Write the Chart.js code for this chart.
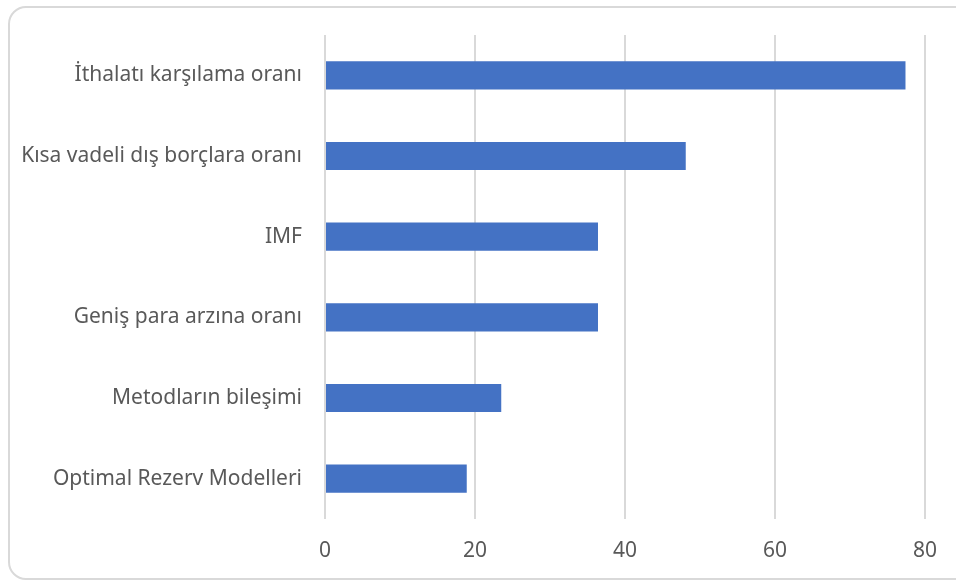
<!DOCTYPE html>
<html>
<head>
<meta charset="utf-8">
<script src="https://cdn.jsdelivr.net/npm/chart.js@4/dist/chart.umd.min.js"></script>
<style>
  html, body { margin: 0; padding: 0; background: #fff; overflow: hidden; }
  #frame {
    position: absolute; left: 8px; top: 6px; width: 970px; height: 574px;
    border: 2px solid #d9d9d9; border-radius: 18px; box-sizing: border-box;
  }
  #wrap { position: absolute; left: 0; top: 0; width: 956px; height: 583px; }
</style>
</head>
<body>
<div id="frame"></div>
<div id="wrap"><canvas id="chartID" width="956" height="583"></canvas></div>
<script>
// reserve methods, share of usage (%)
const labels = [
  'İthalatı karşılama oranı',
  'Kısa vadeli dış borçlara oranı',
  'IMF',
  'Geniş para arzına oranı',
  'Metodların bileşimi',
  'Optimal Rezerv Modelleri'
]
const shares = [77.4, 48.1, 36.4, 36.4, 23.5, 18.9]
const xTicks = [0, 20, 40, 60, 80]

const gray = '#595959'
const font = { family: "'Noto Sans', sans-serif", size: 21 }

window.onload = function() {
  let ctx = document.getElementById('chartID').getContext('2d')
  window.barChart = new Chart(ctx, {
    type: 'bar',
    data: {
      labels: labels,
      datasets: [{
        data: shares,
        backgroundColor: '#4472C4',
        borderWidth: 0,
        barPercentage: 0.7,
        categoryPercentage: 0.5,
      }],
    },
    options: {
      indexAxis: 'y',
      responsive: false,
      animation: false,
      layout: { padding: { top: 35, right: 29, bottom: 0, left: 0 } },
      plugins: { legend: { display: false }, tooltip: { enabled: false } },
      scales: {
        x: {
          min: 0,
          max: 80,
          afterBuildTicks: function(scale) {
            scale.ticks = xTicks.map(v => ({ value: v }))
          },
          afterFit: function(scale) { scale.height = 583 - 519 },
          border: { display: false },
          grid: { color: '#d9d9d9', lineWidth: 2, drawTicks: false },
          ticks: { color: gray, font: font, padding: 19 },
        },
        y: {
          afterFit: function(scale) { scale.width = 325 },
          border: { display: false },
          grid: { display: false },
          ticks: { color: gray, font: font, padding: 15 },
        },
      },
    },
  })
}
</script>
</body>
</html>
